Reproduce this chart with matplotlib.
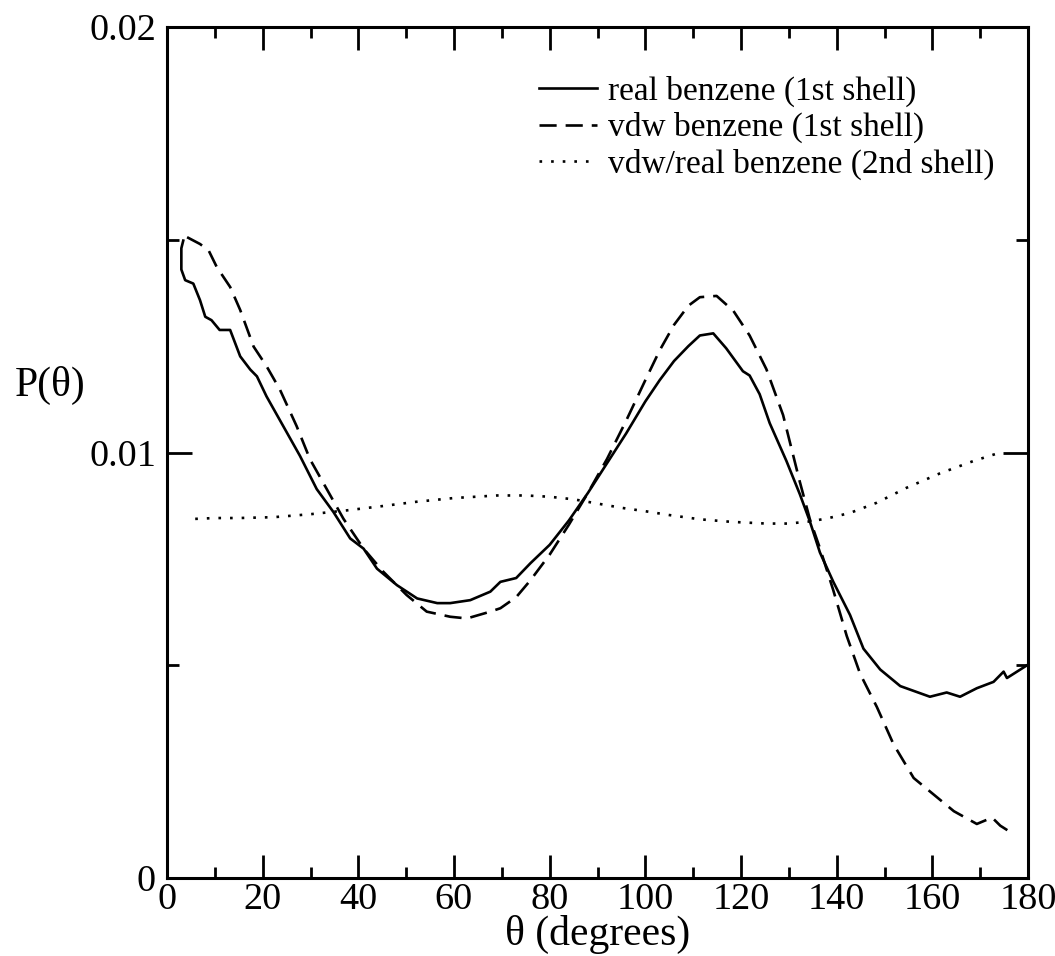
import matplotlib
matplotlib.use("Agg")
import matplotlib.pyplot as plt
from matplotlib.ticker import MultipleLocator, FixedLocator, FixedFormatter

# Data
theta_real = [3.4, 3.0, 3.0, 3.8, 5.5, 6.9, 8.0, 9.3, 11.0, 13.2, 15.3, 17.4, 18.8, 20.8,
              24.3, 27.8, 31.3, 34.8, 38.3, 41.1, 43.9, 48.1, 52.3, 56.5, 59.2, 63.4,
              67.6, 69.7, 73, 76, 80, 84, 88, 92, 96, 100, 103, 106, 109, 111.4, 114.2,
              116.9, 120.4, 121.8, 123.9, 126.0, 129.5, 132.3, 134.4, 136.5, 139.3,
              142.8, 145.6, 149.1, 153.3, 159.5, 163.0, 165.8, 169.3, 172.8, 174.9,
              175.6, 179.8]
p_real = [0.01498, 0.01480, 0.01430, 0.01405, 0.01397, 0.01358, 0.01319, 0.01311, 0.01288,
          0.01288, 0.01226, 0.01195, 0.01179, 0.01132, 0.01062, 0.00992, 0.00914, 0.00860,
          0.00798, 0.00774, 0.00727, 0.00688, 0.00657, 0.00646, 0.00646, 0.00653, 0.00673,
          0.00696, 0.00705, 0.00740, 0.00783, 0.00840, 0.00905, 0.00975, 0.01045, 0.01120,
          0.01170, 0.01215, 0.01250, 0.01275, 0.01280, 0.01245, 0.01191, 0.01181, 0.01137,
          0.01069, 0.00980, 0.00902, 0.00838, 0.00765, 0.00696, 0.00618, 0.00539, 0.00490,
          0.00451, 0.00426, 0.00436, 0.00426, 0.00446, 0.00461, 0.00485, 0.00470, 0.00500]

theta_vdw = [4.2, 6.9, 8.7, 10.4, 13.2, 15.3, 18.1, 20.8, 23.6, 27.1, 29.9, 33.4, 36.9,
             41.1, 45.2, 50.1, 54.3, 59.2, 62.7, 67.6, 69.7, 73, 76, 80, 84, 88, 92, 96,
             100, 103, 106, 109, 111.4, 114.9, 118.4, 121.8, 125.3, 128.8, 132.3, 134.4,
             136.5, 139.3, 142.1, 144.9, 148.4, 151.9, 156.1, 160.3, 164.5, 169.3, 172.5,
             174.2, 177.0]
p_vdw = [0.01506, 0.01490, 0.01475, 0.01436, 0.01389, 0.01335, 0.01249, 0.01203, 0.01148,
         0.01062, 0.00984, 0.00914, 0.00844, 0.00774, 0.00720, 0.00665, 0.00626, 0.00614,
         0.00610, 0.00626, 0.00634, 0.00660, 0.00700, 0.00760, 0.00830, 0.00905, 0.00985,
         0.01075, 0.01170, 0.01240, 0.01300, 0.01345, 0.01365, 0.01368, 0.01333, 0.01275,
         0.01196, 0.01088, 0.00931, 0.00843, 0.00775, 0.00676, 0.00569, 0.00480, 0.00402,
         0.00314, 0.00235, 0.00196, 0.00157, 0.00127, 0.00142, 0.00123, 0.00103]

theta_2nd = [5.9, 10, 15, 22.3, 30, 37.6, 45, 52, 60, 69, 75, 80, 85, 90, 95, 100, 105,
             111.4, 118, 125.3, 130, 134.4, 138, 142.8, 148.4, 154.6, 161.6, 168.6, 174.2]
p_2nd = [0.00844, 0.00846, 0.00846, 0.00848, 0.00855, 0.00864, 0.00874, 0.00884, 0.00893,
         0.00899, 0.00899, 0.00896, 0.00890, 0.00880, 0.00870, 0.00862, 0.00853, 0.00843,
         0.00837, 0.00833, 0.00833, 0.00838, 0.00845, 0.00858, 0.00882, 0.00917, 0.00951,
         0.00980, 0.01000]

labels = ["real benzene (1st shell)", "vdw benzene (1st shell)", "vdw/real benzene (2nd shell)"]
xticks = [0, 20, 40, 60, 80, 100, 120, 140, 160, 180]
yticks = [0, 0.01, 0.02]
ytick_labels = ["0", "0.01", "0.02"]

plt.rcParams['font.family'] = ['Liberation Serif', 'DejaVu Serif']

fig = plt.figure(figsize=(10.55, 9.56), dpi=100)
ax = fig.add_axes([167/1055, 78/956, 861/1055, 851/956])

lw = 1.9
ax.plot(theta_real, p_real, color='black', lw=lw, ls='-', label=labels[0])
ax.plot(theta_vdw, p_vdw, color='black', lw=lw, ls=(0, (6.5, 3.4)), label=labels[1])
ax.plot(theta_2nd, p_2nd, color='black', lw=lw, ls=(0, (1, 3.4)), label=labels[2])

ax.set_xlim(0, 180)
ax.set_ylim(0, 0.02)
ax.xaxis.set_major_locator(FixedLocator(xticks))
ax.xaxis.set_minor_locator(MultipleLocator(10))
ax.yaxis.set_major_locator(FixedLocator(yticks))
ax.yaxis.set_major_formatter(FixedFormatter(ytick_labels))
ax.yaxis.set_minor_locator(MultipleLocator(0.005))

for s in ax.spines.values():
    s.set_linewidth(2.2)

ax.tick_params(which='both', direction='in', top=True, right=True, width=2.0, labelsize=27.5)
ax.tick_params(axis='x', which='major', length=16.5, pad=3)
ax.tick_params(axis='x', which='minor', length=8)
ax.tick_params(axis='y', which='major', length=18, pad=8)
ax.tick_params(axis='y', which='minor', length=8.5)

ax.set_xlabel("θ (degrees)", fontsize=30, va='center', ha='center')
ax.xaxis.set_label_coords(0.5, (878 - 934) / 851)
ax.set_ylabel("P(θ)", fontsize=30, rotation=0, va='center', ha='center')
ax.yaxis.set_label_coords((50 - 167) / 861, (878 - 385) / 851)

leg = ax.legend(loc='upper right', frameon=False, fontsize=24, handlelength=1.75,
                handletextpad=0.35, labelspacing=0.15, borderpad=0, borderaxespad=0,
                bbox_to_anchor=((995 - 167) / 861, (878 - 76) / 851))

fig.savefig("out.png", dpi=100)
